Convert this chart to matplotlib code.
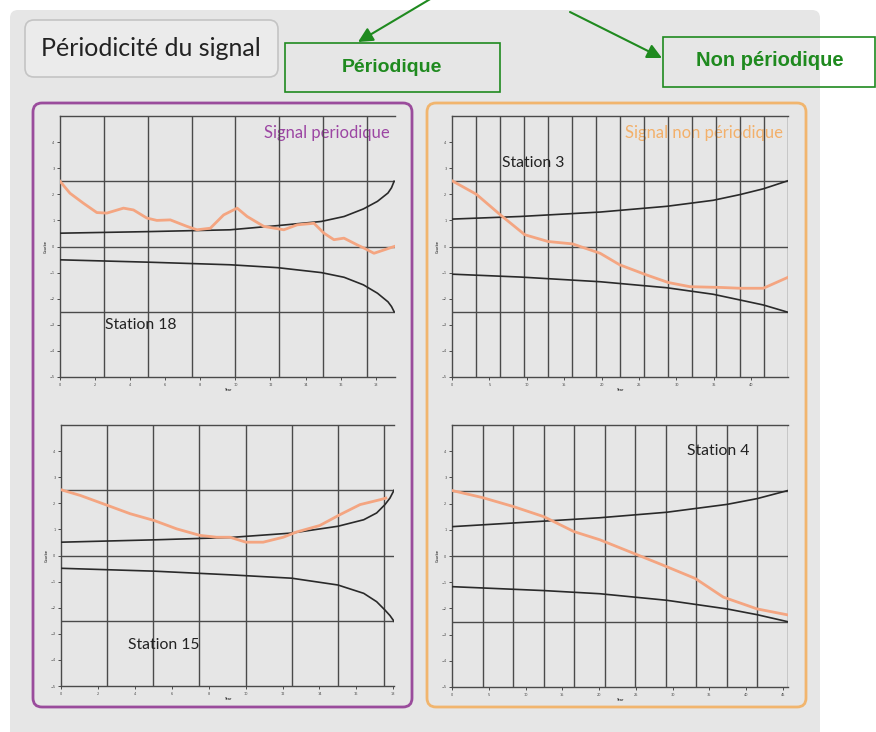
import matplotlib.pyplot as plt
import numpy as np
from matplotlib.patches import FancyBboxPatch, Rectangle

# Station 18 (signal periodique)
s18_x_up = [0, 5, 9.7, 12.4, 14.9, 16.2, 17.3, 18.1, 18.7, 18.9, 19.05]
s18_up = [0.51, 0.57, 0.64, 0.80, 0.96, 1.15, 1.44, 1.73, 2.05, 2.25, 2.5]
s18_dn = [-0.51, -0.6, -0.70, -0.81, -1.0, -1.18, -1.47, -1.79, -2.12, -2.3, -2.5]
s18_x = [0, 0.57, 1.33, 2.1, 2.67, 3.62, 4.19, 4.95, 5.52, 6.29, 7.24, 7.81, 8.57, 9.33,
         10.1, 10.67, 11.62, 12.76, 13.52, 14.48, 15.05, 15.62, 16.19, 16.95, 17.33, 17.9, 18.48, 19.05]
s18_sig = [2.5, 2.04, 1.66, 1.3, 1.28, 1.47, 1.4, 1.09, 1.0, 1.02, 0.77, 0.64, 0.7, 1.21,
           1.47, 1.15, 0.77, 0.64, 0.83, 0.89, 0.51, 0.26, 0.32, 0.06, -0.06, -0.26, -0.13, 0.0]

# Station 15 (signal periodique)
s15_x_up = [0, 5.05, 9.15, 12.5, 15.0, 16.4, 17.1, 17.55, 17.82, 18.04]
s15_up = [0.51, 0.6, 0.69, 0.86, 1.12, 1.37, 1.63, 1.95, 2.2, 2.5]
s15_dn = [-0.49, -0.6, -0.74, -0.87, -1.13, -1.45, -1.77, -2.09, -2.3, -2.52]
s15_x = [0, 1.05, 2.52, 3.75, 5.05, 6.27, 7.53, 8.43, 9.15, 10.02, 10.95, 12.04, 12.76,
         14.02, 15.1, 16.2, 17.3, 17.6]
s15_sig = [2.52, 2.3, 1.92, 1.6, 1.34, 1.02, 0.77, 0.7, 0.7, 0.51, 0.51, 0.7, 0.9,
           1.15, 1.56, 1.95, 2.14, 2.2]

# Station 3 (signal non periodique)
s3_x_up = [0, 9.1, 19.8, 28.7, 34.9, 38.5, 41.6, 44.9]
s3_up = [1.05, 1.15, 1.32, 1.54, 1.77, 1.99, 2.21, 2.52]
s3_dn = [-1.06, -1.17, -1.35, -1.58, -1.83, -2.05, -2.24, -2.52]
s3_x = [0, 3.26, 6.47, 9.73, 12.86, 16.1, 19.8, 22.4, 26.0, 28.9, 31.8, 36.0, 38.5, 41.6, 44.9]
s3_sig = [2.52, 2.0, 1.21, 0.45, 0.19, 0.1, -0.26, -0.7, -1.09, -1.38, -1.54, -1.57, -1.6, -1.6, -1.18]

# Station 4 (signal non periodique)
s4_x_up = [0, 12.5, 20.1, 29.2, 37.4, 41.5, 45.7]
s4_up = [1.12, 1.33, 1.46, 1.67, 1.97, 2.19, 2.5]
s4_dn = [-1.17, -1.32, -1.44, -1.69, -2.02, -2.24, -2.51]
s4_x = [0, 4.14, 8.32, 12.5, 16.6, 20.1, 24.9, 28.7, 33.1, 36.9, 41.5, 45.7]
s4_sig = [2.5, 2.23, 1.89, 1.5, 0.93, 0.62, 0.08, -0.35, -0.86, -1.57, -2.02, -2.25]

W, H = 876, 732
fig = plt.figure(figsize=(W / 100, H / 100), dpi=100)
fig.patch.set_facecolor('white')

# fond en coordonnees pixel
bg = fig.add_axes([0, 0, 1, 1])
bg.set_xlim(0, W)
bg.set_ylim(H, 0)
bg.axis('off')

green = '#1f8a1f'
purple = '#9a4c9c'
orange = '#f1b56e'

bg.add_patch(FancyBboxPatch((10, 10), 810, 740, boxstyle='round,pad=0,rounding_size=8',
                            fc='#e6e6e6', ec='none'))
bg.add_patch(FancyBboxPatch((25, 20), 253, 57, boxstyle='round,pad=0,rounding_size=9',
                            fc='#ebebeb', ec='#c4c4c4', lw=1.2))
bg.text(151, 48, 'Périodicité du signal', fontsize=18, family='Lato',
        ha='center', va='center', color='#222222')

bg.add_patch(FancyBboxPatch((33, 103), 379, 604, boxstyle='round,pad=0,rounding_size=9',
                            fc='none', ec=purple, lw=2))
bg.add_patch(FancyBboxPatch((427, 103), 379, 604, boxstyle='round,pad=0,rounding_size=9',
                            fc='none', ec=orange, lw=2))

bg.add_patch(Rectangle((285, 43), 215, 49, fc='none', ec=green, lw=1.2))
bg.add_patch(Rectangle((663, 37), 212, 50, fc='none', ec=green, lw=1.2))
bg.text(392, 68, 'Périodique', fontsize=14, family='Liberation Sans', weight='bold',
        color=green, ha='center', va='center')
bg.text(770, 61, 'Non périodique', fontsize=14.5, family='Liberation Sans', weight='bold',
        color=green, ha='center', va='center')
bg.annotate('', xy=(358, 42), xytext=(432, -2),
            arrowprops=dict(arrowstyle='-|>', color=green, lw=1.5, mutation_scale=22,
                            shrinkA=0, shrinkB=0))
bg.annotate('', xy=(662, 58), xytext=(570, 12),
            arrowprops=dict(arrowstyle='-|>', color=green, lw=1.5, mutation_scale=22,
                            shrinkA=0, shrinkB=0))


def panel(box, xmax, xstep, vlines, x_up, up, dn, x, sig, label, label_xy,
          title=None, title_color=None):
    l, t, r, b = box
    ax = fig.add_axes([l / W, 1 - b / H, (r - l) / W, (b - t) / H])
    ax.patch.set_alpha(0)
    ax.set_xlim(0, xmax)
    ax.set_ylim(-5, 5)
    gc = '#4a4a4a'
    for v in vlines:
        ax.axvline(v, color=gc, lw=1, zorder=2)
    for h in (-2.5, 0, 2.5):
        ax.axhline(h, color=gc, lw=1, zorder=2)
    ax.plot(x_up, up, color='#2a2a2a', lw=1.2, zorder=3)
    ax.plot(x_up, dn, color='#2a2a2a', lw=1.2, zorder=3)
    ax.plot(x, sig, color='#f4a581', lw=2, zorder=4, solid_joinstyle='round')
    for s in ('left', 'bottom', 'top'):
        ax.spines[s].set_color(gc)
        ax.spines[s].set_linewidth(1)
    ax.spines['right'].set_visible(False)
    ax.set_xticks(np.arange(0, xmax, xstep))
    ax.set_yticks(np.arange(-5, 5, 1))
    ax.tick_params(length=2, width=0.6, color='#333333', labelsize=2.5, pad=2,
                   labelcolor='#444444')
    ax.set_xlabel('Year', fontsize=2.5, labelpad=1)
    ax.set_ylabel('Courbe', fontsize=2.5, labelpad=1)
    ax.text(label_xy[0], label_xy[1], label, transform=ax.transAxes, fontsize=11.3,
            family='Lato', color='#222222', ha='left', va='center', zorder=5)
    if title:
        ax.text(0.985, 0.935, title, transform=ax.transAxes, fontsize=12, family='Lato',
                color=title_color, ha='right', va='center', zorder=1)
    return ax


panel((60, 116, 395, 377), 19.1, 2, np.arange(2.5, 19, 2.5),
      s18_x_up, s18_up, s18_dn, s18_x, s18_sig, 'Station 18', (0.135, 0.2),
      'Signal periodique', '#9c46a3')
panel((61, 425, 394, 686), 18.04, 2, np.arange(2.5, 18, 2.5),
      s15_x_up, s15_up, s15_dn, s15_x, s15_sig, 'Station 15', (0.2, 0.157))
panel((452, 116, 788, 377), 44.9, 5, np.linspace(0, 44.9, 15)[1:],
      s3_x_up, s3_up, s3_dn, s3_x, s3_sig, 'Station 3', (0.15, 0.82),
      'Signal non périodique', '#f3b06a')
panel((452, 425, 788, 687), 45.7, 5, np.linspace(0, 45.7, 12)[1:],
      s4_x_up, s4_up, s4_dn, s4_x, s4_sig, 'Station 4', (0.7, 0.9))

fig.savefig('out.png', dpi=100, facecolor='white')
